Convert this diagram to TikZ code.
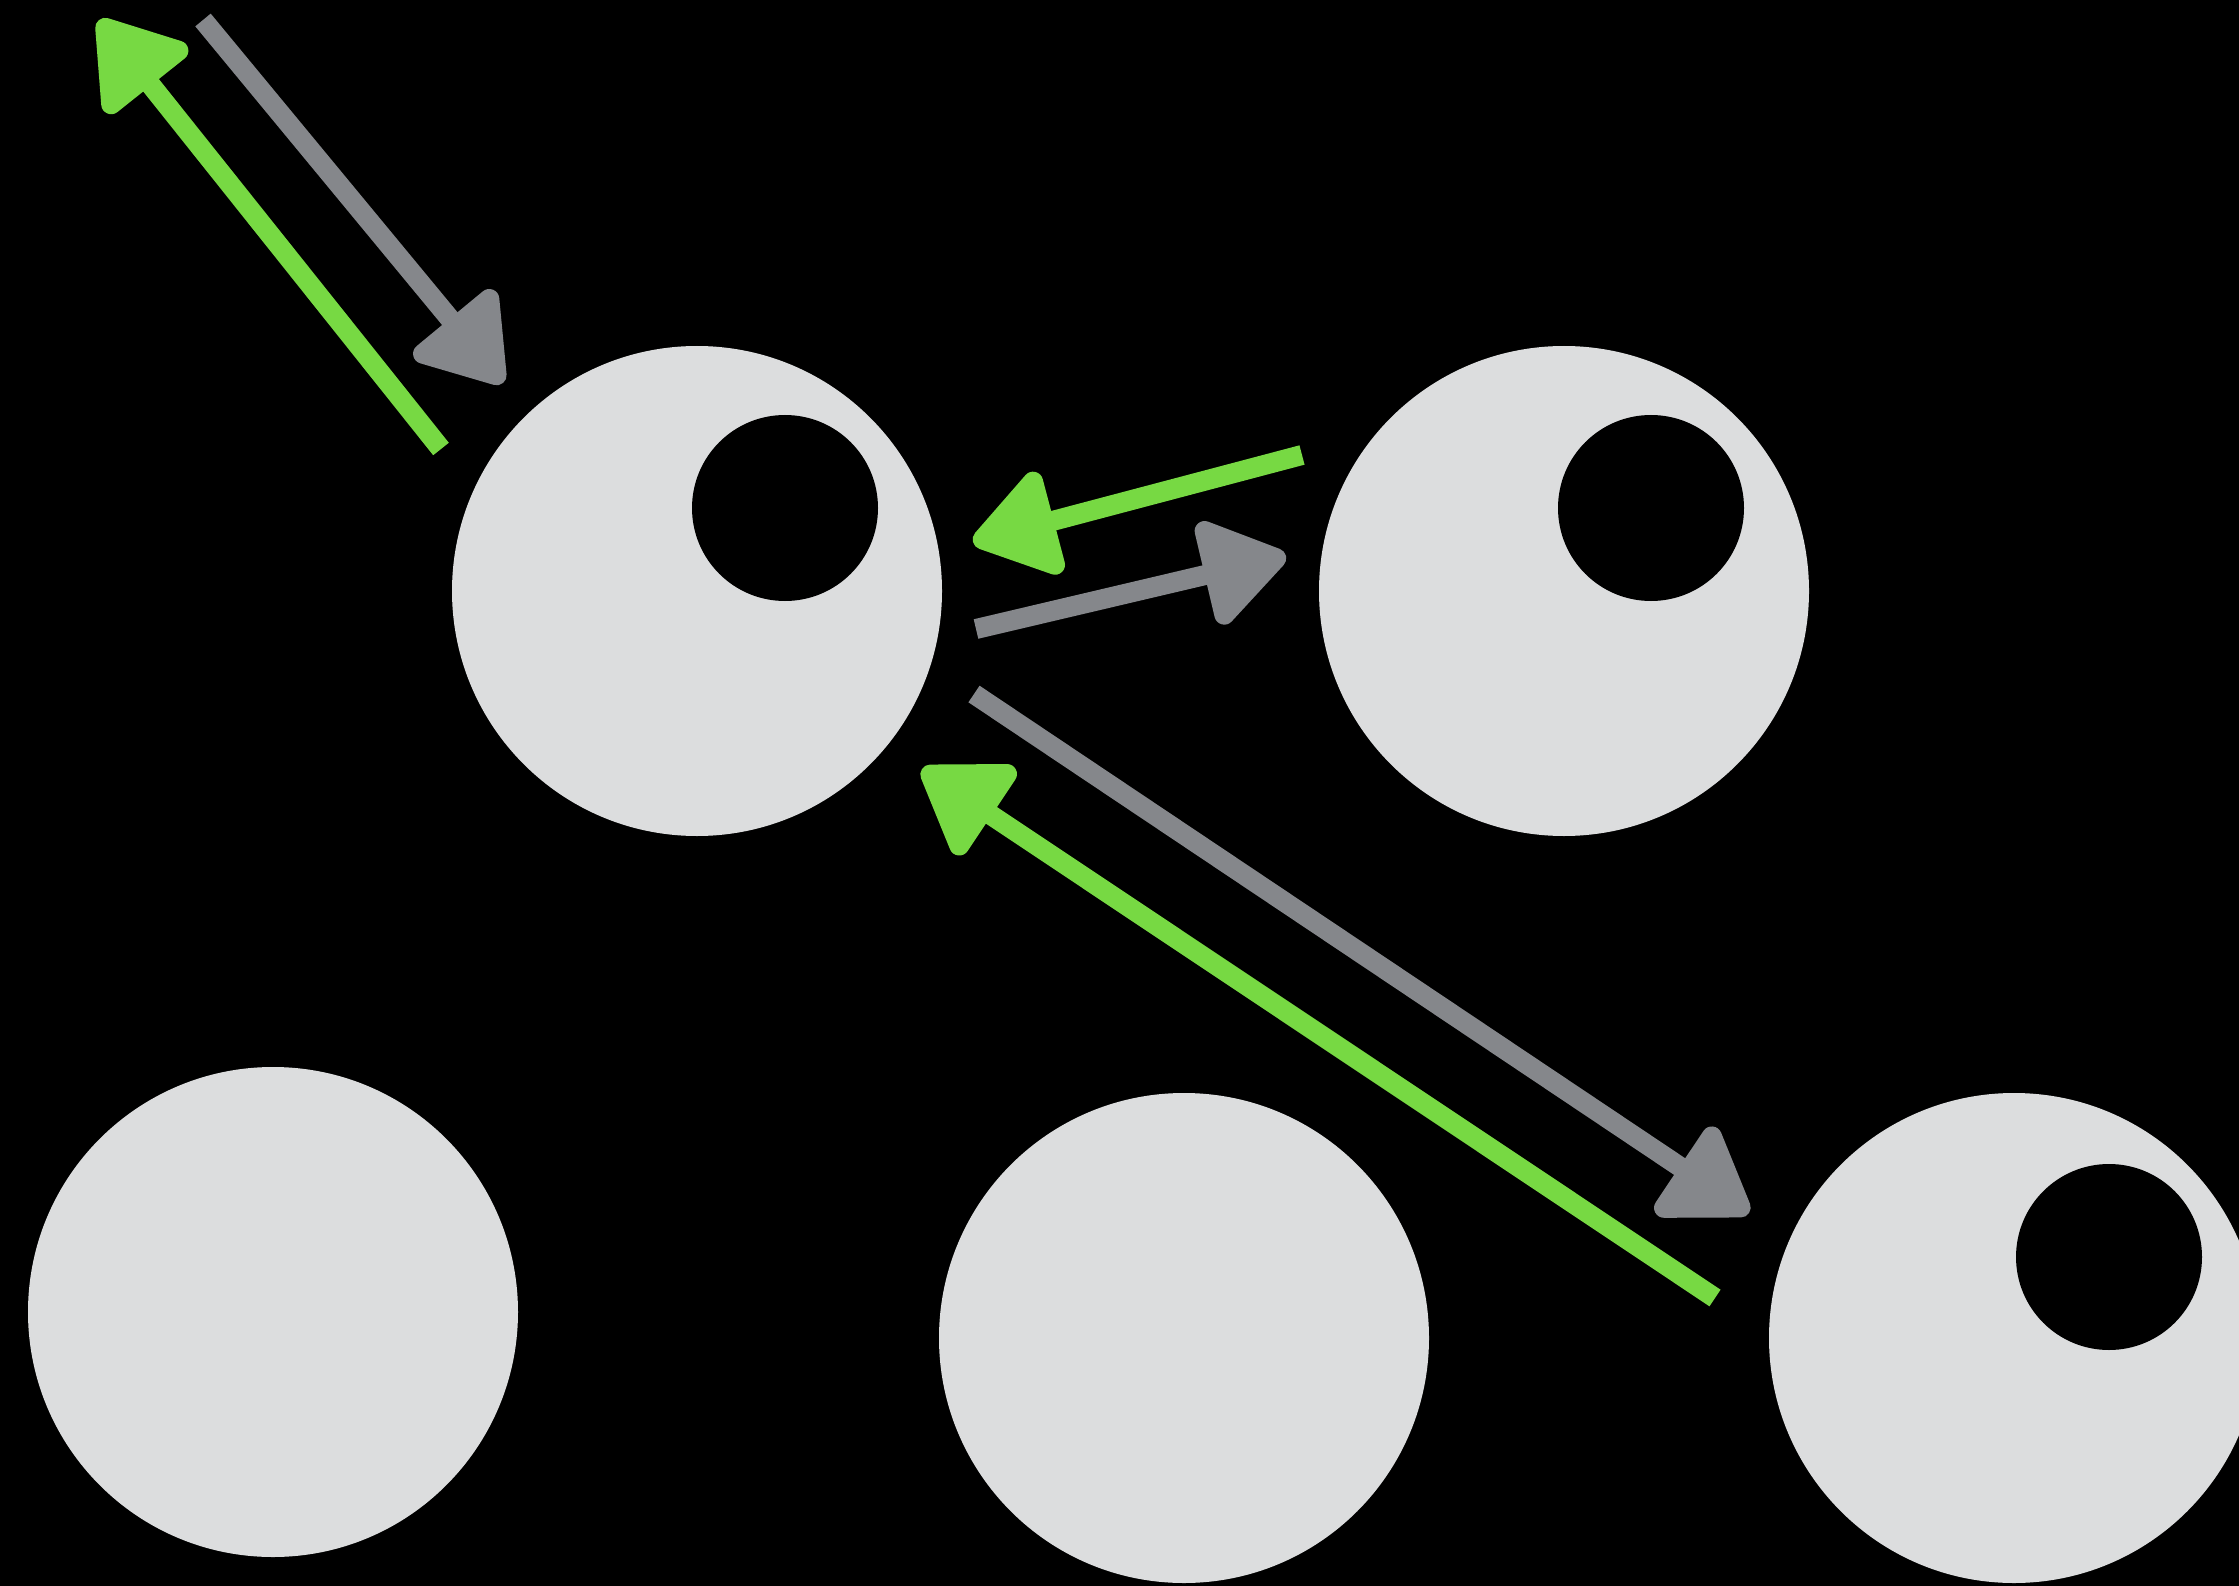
\documentclass[tikz,border=0pt]{standalone}
\usetikzlibrary{arrows.meta}
\definecolor{ballgray}{HTML}{DCDDDE}
\definecolor{chalkgreen}{HTML}{77D943}
\definecolor{chalkgray}{HTML}{85878B}
\begin{document}
\begin{tikzpicture}[x=1pt,y=-1pt,
  ball/.style={circle,fill=ballgray,inner sep=0pt,minimum size=490pt},
  hole/.style={circle,fill=black,inner sep=0pt,minimum size=186pt},
  chalk/.style={line width=20pt,-{Triangle[length=92pt,width=118pt,round]}},
  greenarrow/.style={chalk,draw=chalkgreen,fill=chalkgreen},
  grayarrow/.style={chalk,draw=chalkgray,fill=chalkgray}]
\fill[black] (0,0) rectangle (2239,1586);
\useasboundingbox (0,0) rectangle (2239,1586);
% balls
\node[ball] (A) at (697,591) {};
\node[hole] (Ah) at (785,508) {};
\node[ball] (B) at (1564,591) {};
\node[hole] (Bh) at (1651,508) {};
\node[ball] (C) at (273,1312) {};
\node[ball] (D) at (1184,1338) {};
\node[ball] (E) at (2014,1338) {};
\node[hole] (Eh) at (2109,1257) {};
% arrow end points
\coordinate (g1s) at (441,449);
\coordinate (g1e) at (99,20);
\coordinate (k1s) at (203,20);
\coordinate (k1e) at (503,383);
\coordinate (g2s) at (1302,455);
\coordinate (g2e) at (973,542);
\coordinate (k2s) at (976,629);
\coordinate (k2e) at (1286,556);
\coordinate (k3s) at (974,694);
\coordinate (k3e) at (1749,1213);
\coordinate (g3s) at (1715,1298);
\coordinate (g3e) at (922,769);
% arrows
\draw[greenarrow] (g1s) -- (g1e);
\draw[grayarrow] (k1s) -- (k1e);
\draw[greenarrow] (g2s) -- (g2e);
\draw[grayarrow] (k2s) -- (k2e);
\draw[grayarrow] (k3s) -- (k3e);
\draw[greenarrow] (g3s) -- (g3e);
\end{tikzpicture}
\end{document}
